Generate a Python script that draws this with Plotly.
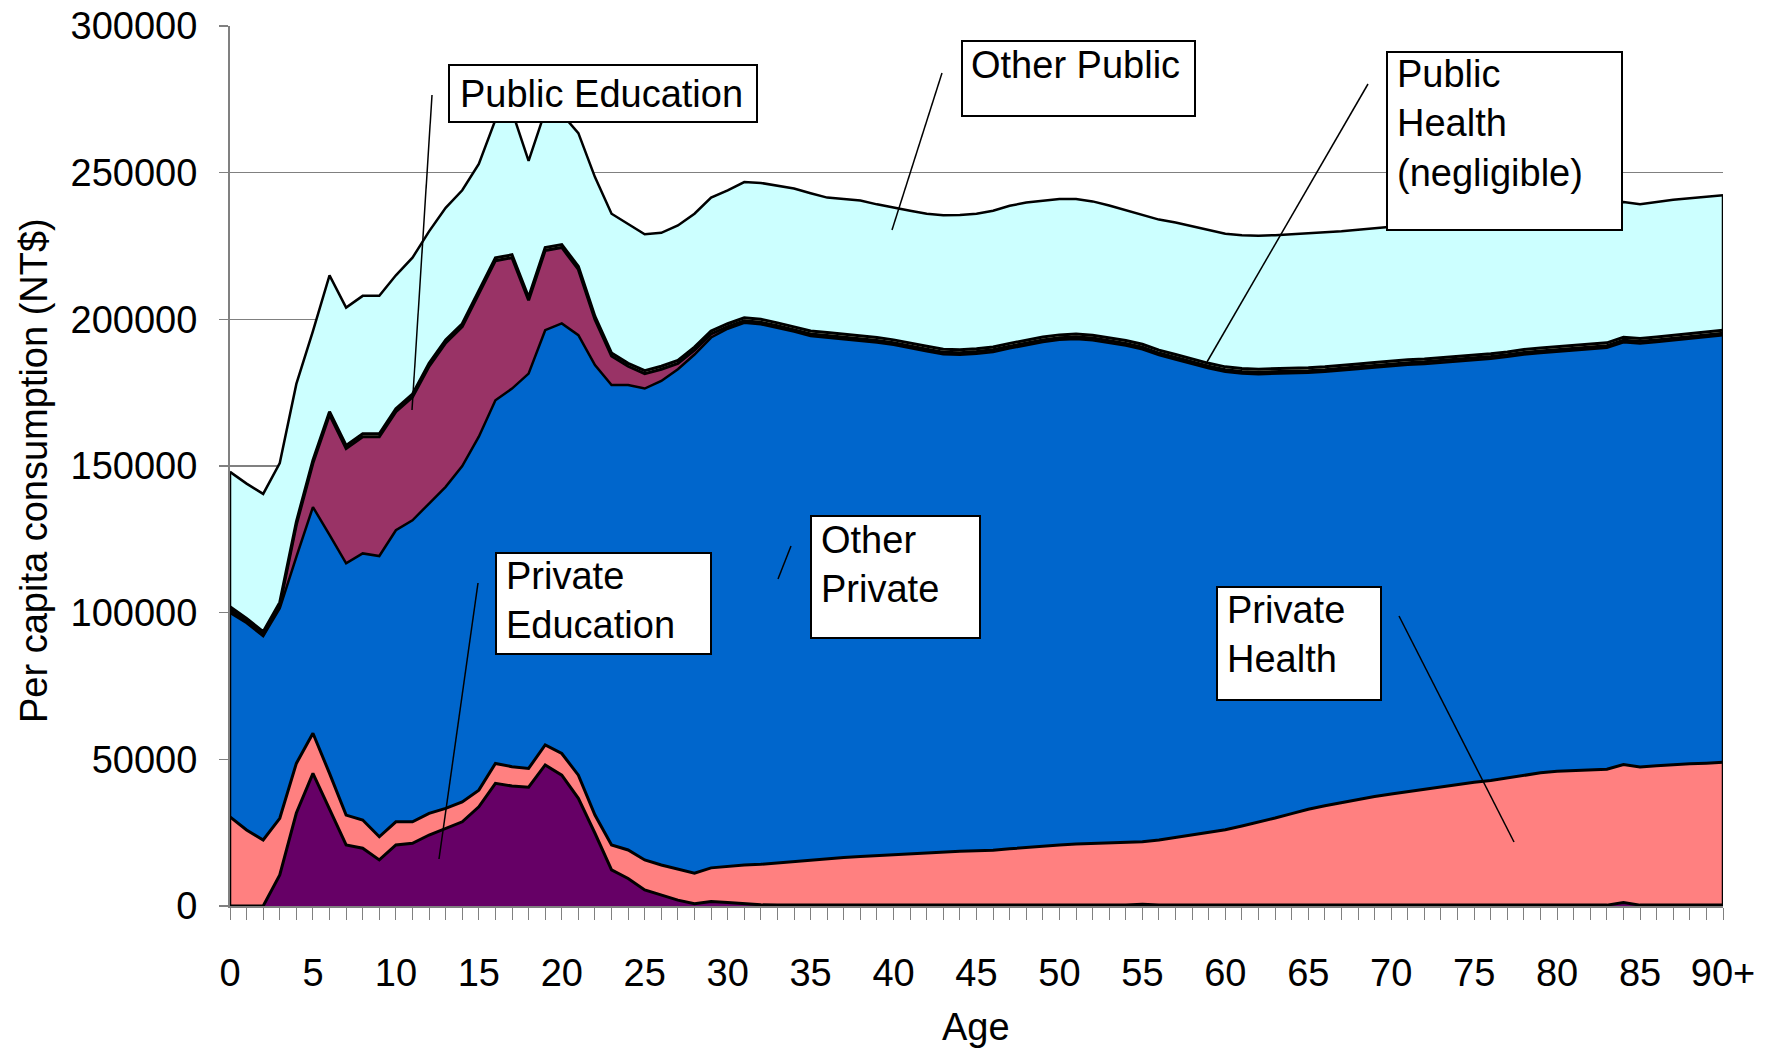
import plotly.graph_objects as go

ages = list(range(91))
age_tick_vals = [0, 5, 10, 15, 20, 25, 30, 35, 40, 45, 50, 55, 60, 65, 70, 75, 80, 85, 90]
age_tick_text = ["0", "5", "10", "15", "20", "25", "30", "35", "40", "45", "50", "55",
                 "60", "65", "70", "75", "80", "85", "90+"]
y_tick_vals = [0, 50000, 100000, 150000, 200000, 250000, 300000]
y_tick_text = ["0", "50000", "100000", "150000", "200000", "250000", "300000"]

private_education = [
    0, 0, 0, 10600, 31700, 45200, 32700, 20800, 19700, 15700,
    20800, 21400, 24200, 26500, 28700, 33800, 41800, 40900, 40500, 48100,
    44600, 36700, 24800, 12300, 9400, 5500, 3800, 2000, 800, 1500,
    1200, 800, 400, 300, 300, 300, 300, 300, 300, 300,
    300, 300, 300, 300, 300, 300, 300, 300, 300, 300,
    300, 300, 300, 300, 300, 600, 300, 300, 300, 300,
    300, 300, 300, 300, 300, 300, 300, 300, 300, 300,
    300, 300, 300, 300, 300, 300, 300, 300, 300, 300,
    300, 300, 300, 300, 1200, 300, 300, 300, 300, 300,
    300]
private_health = [
    30400, 25900, 22500, 19300, 16900, 13700, 12500, 10200, 9600, 7900,
    7900, 7300, 7400, 6800, 6800, 5700, 6800, 6600, 6400, 6800,
    7400, 7900, 6200, 8500, 9700, 10200, 10200, 10500, 10400, 11500,
    12300, 13200, 13800, 14400, 14900, 15400, 15900, 16200, 16600, 16900,
    17200, 17600, 17900, 18200, 18400, 18500, 18700, 19200, 19700, 20100,
    20500, 20800, 21000, 21300, 21500, 21300, 22200, 23100, 24000, 24900,
    25700, 27000, 28300, 29700, 31200, 32700, 33900, 35000, 36100, 37000,
    37900, 38700, 39500, 40300, 41200, 41900, 42500, 43400, 44300, 45100,
    45600, 45900, 46100, 46300, 47000, 47100, 47500, 47900, 48200, 48400,
    48700]
other_private = [
    69600, 70600, 69500, 71600, 70400, 77100, 81300, 85800, 90900, 95700,
    99400, 102800, 105600, 109600, 114500, 120500, 123800, 128900, 134600, 141400,
    146600, 150000, 153400, 156800, 158500, 160700, 165000, 170500, 176800, 180800,
    183300, 184800, 184100, 182400, 180600, 178600, 177600, 176800, 175900, 174900,
    173800, 172200, 170900, 169600, 169200, 169500, 169900, 170600, 171300, 171900,
    172200, 172200, 171600, 170500, 169300, 167900, 165300, 162900, 160500, 158100,
    156100, 154200, 152700, 151400, 150100, 148800, 147900, 147200, 146700, 146300,
    145900, 145500, 145000, 144600, 144200, 143900, 143800, 143500, 143400, 143100,
    143000, 143100, 143300, 143700, 144000, 144400, 144500, 144700, 145000, 145300,
    145600]
public_education = [
    1000, 500, 500, 1000, 11000, 15000, 41000, 39200, 39800, 40700,
    40400, 42000, 46800, 49100, 47500, 49000, 47600, 44600, 25000, 27200,
    25900, 22400, 15600, 9900, 6400, 5100, 4000, 2000, 1500, 1200,
    700, 700, 700, 700, 700, 700, 700, 700, 700, 700,
    700, 700, 700, 700, 700, 700, 700, 700, 700, 700,
    700, 700, 700, 700, 700, 700, 700, 700, 700, 700,
    700, 700, 700, 700, 700, 700, 700, 700, 700, 700,
    700, 700, 700, 700, 700, 700, 700, 700, 700, 700,
    700, 700, 700, 700, 700, 700, 700, 700, 700, 700,
    700]
public_health = [1000] * 91
other_public = [
    46000, 46000, 47000, 47500, 47000, 44000, 46500, 47000, 47000, 47000,
    45500, 46500, 45000, 45000, 45500, 43000, 47000, 49000, 46500, 46500,
    44500, 45500, 47500, 47500, 47500, 46500, 45500, 46000, 45500, 45500,
    45500, 46300, 46500, 46700, 47100, 47000, 46000, 46000, 46000, 45400,
    45000, 45200, 45200, 45700, 46000, 46000, 46400, 46900, 46800, 46500,
    46300, 46000, 45600, 45000, 44400, 44000, 44500, 45000, 45300, 45500,
    45400, 45500, 45500, 45600, 45700, 45700, 45700, 45800, 45700, 45700,
    45700, 45800, 45900, 46200, 46100, 46300, 46500, 46500, 46600, 46700,
    47000, 47100, 47500, 47400, 46100, 45700, 46000, 46200, 46100, 46100,
    46000]

series = [
    ("Private Education", private_education, "#660066", "black", 3),
    ("Private Health", private_health, "#FF8080", "black", 3),
    ("Other Private", other_private, "#0066CC", "black", 2.5),
    ("Public Education", public_education, "#993366", "black", 3),
    ("Public Health", public_health, "#FFFFCC", "black", 3),
    ("Other Public", other_public, "#CCFFFF", "black", 2.5),
]

FONT = "Liberation Sans, Arial, sans-serif"
FS = 38

fig = go.Figure()
for name, vals, fill, lc, lw in series:
    fig.add_trace(go.Scatter(
        x=ages, y=vals, name=name, mode="lines", stackgroup="one",
        fillcolor=fill, line=dict(color=lc, width=lw), hoverinfo="skip"))

totals = [sum(s[1][i] for s in series) for i in range(91)]
for idx in (0, 90):
    fig.add_trace(go.Scatter(x=[ages[idx], ages[idx]], y=[0, totals[idx]], mode="lines",
                             line=dict(color="black", width=2.5), hoverinfo="skip",
                             showlegend=False))

# layout geometry (pixels)
L, R, T, B = 230, 46, 26, 144
W, H = 1769, 1050
PW, PH = W - L - R, H - T - B


def px(xp):
    return (xp - L) / PW


def py(yp):
    return (T + PH - yp) / PH


shapes = []
annotations = []

boxes = [
    # (x0, y0, x1, y1, text, text_left, text_center_y)
    (449, 65, 757, 122, "Public Education", 458, 94),
    (962, 41, 1195, 116, "Other Public", 969, 65),
    (1387, 52, 1622, 230, "Public<br>Health<br>(negligible)", 1395, 124),
    (811, 516, 980, 638, "Other<br>Private", 819, 564),
    (496, 553, 711, 654, "Private<br>Education", 504, 601),
    (1217, 587, 1381, 700, "Private<br>Health", 1225, 634),
]
leaders = [
    (432, 95, 412, 410),
    (942, 73, 892, 230),
    (1368, 84, 1207, 362),
    (791, 546, 778, 579),
    (478, 583, 439, 859),
    (1399, 616, 1514, 842),
]
for x0, y0, x1, y1 in leaders:
    shapes.append(dict(type="line", xref="paper", yref="paper",
                       x0=px(x0), y0=py(y0), x1=px(x1), y1=py(y1),
                       line=dict(color="black", width=1.5)))
for x0, y0, x1, y1, text, tl, tc in boxes:
    shapes.append(dict(type="rect", xref="paper", yref="paper",
                       x0=px(x0), y0=py(y0), x1=px(x1), y1=py(y1),
                       line=dict(color="black", width=2), fillcolor="white"))
    annotations.append(dict(xref="paper", yref="paper", x=px(tl), y=py(tc),
                            xanchor="left", yanchor="middle", align="left",
                            text=text, showarrow=False,
                            font=dict(family=FONT, size=FS, color="black")))

annotations.append(dict(xref="paper", yref="paper", x=px(34), y=py(471),
                        xanchor="center", yanchor="middle", textangle=-90,
                        text="Per capita consumption (NT$)", showarrow=False,
                        font=dict(family=FONT, size=FS, color="black")))
annotations.append(dict(xref="paper", yref="paper", x=px(976), y=py(1027),
                        xanchor="center", yanchor="middle",
                        text="Age", showarrow=False,
                        font=dict(family=FONT, size=FS, color="black")))

fig.update_layout(
    width=W, height=H,
    margin=dict(l=L, r=R, t=T, b=B, autoexpand=False),
    paper_bgcolor="white", plot_bgcolor="white",
    showlegend=False,
    shapes=shapes, annotations=annotations,
    font=dict(family=FONT, size=FS, color="black"),
    xaxis=dict(range=[0, 90], tickmode="array", tickvals=age_tick_vals,
               ticktext=age_tick_text, ticks="outside", ticklen=12,
               tickcolor="#808080", tickwidth=1, showline=True,
               linecolor="#808080", linewidth=2, showgrid=False, zeroline=False,
               ticklabelstandoff=20, automargin=False,
               minor=dict(tickmode="linear", tick0=0, dtick=1, ticks="outside",
                          ticklen=12, tickcolor="#808080", tickwidth=1,
                          showgrid=False),
               tickfont=dict(family=FONT, size=FS, color="black")),
    yaxis=dict(range=[0, 300000], tickmode="array", tickvals=y_tick_vals,
               ticktext=y_tick_text,
               ticks="outside", ticklen=9, tickcolor="#808080", tickwidth=1.5,
               showline=True, linecolor="#808080", linewidth=2,
               showgrid=True, gridcolor="#808080", gridwidth=1.5,
               zeroline=False, ticklabelstandoff=14, automargin=False,
               tickfont=dict(family=FONT, size=FS, color="black")),
)

fig.write_html("out.html",
               config={"displayModeBar": False, "staticPlot": True},
               post_script="document.body.style.margin='0';document.body.style.overflow='hidden';")
